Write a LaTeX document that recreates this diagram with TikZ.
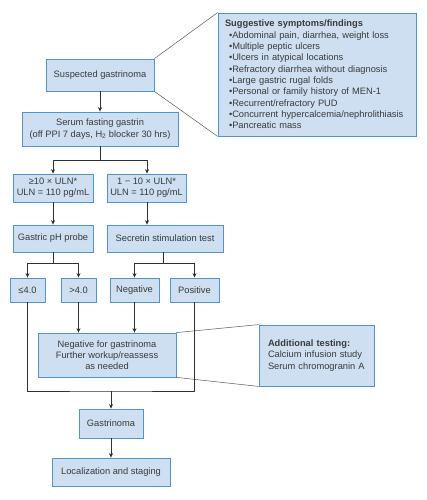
\documentclass[tikz,border=0pt]{standalone}
\usepackage{fontspec}
\setmainfont{Liberation Sans}
\usetikzlibrary{arrows.meta,shadows}
\definecolor{boxfill}{HTML}{CEDFF1}
\definecolor{boxdraw}{HTML}{4F95C9}
\definecolor{txt}{HTML}{3A3A3A}
\definecolor{ln}{HTML}{303030}
\tikzset{
  box/.style={draw=boxdraw, fill=boxfill, line width=0.8pt, inner sep=0pt, align=center,
    text=txt, font=\fontsize{9.3}{11.3}\selectfont,
    drop shadow={shadow xshift=0.8pt, shadow yshift=-0.8pt, fill=black!35, opacity=0.6}},
  conn/.style={draw=ln, line width=0.6pt},
  arr/.style={conn, -{Stealth[length=4.5pt,width=4pt]}},
  callout/.style={draw=ln!80, line width=0.5pt}
}
\begin{document}
\begin{tikzpicture}[x=1pt,y=-1pt]
\useasboundingbox (0,0) rectangle (426,500);
\fill[white] (0,0) rectangle (426,500);
% boxes
\node[box, minimum width=108pt, minimum height=32pt] (sus) at (100,75) {Suspected gastrinoma};
\node[box, text width=184pt, inner xsep=7pt, minimum height=123pt, align=left] (sym) at (317,74.5)
  {\textbf{Suggestive symptoms/findings}\\
   \hspace*{4pt}•Abdominal pain, diarrhea, weight loss\\
   \hspace*{4pt}•Multiple peptic ulcers\\
   \hspace*{4pt}•Ulcers in atypical locations\\
   \hspace*{4pt}•Refractory diarrhea without diagnosis\\
   \hspace*{4pt}•Large gastric rugal folds\\
   \hspace*{4pt}•Personal or family history of MEN-1\\
   \hspace*{4pt}•Recurrent/refractory PUD\\
   \hspace*{4pt}•Concurrent hypercalcemia/nephrolithiasis\\
   \hspace*{4pt}•Pancreatic mass};
\node[box, minimum width=156pt, minimum height=34pt] (serum) at (100,129)
  {Serum fasting gastrin\\(off PPI 7 days, H\textsubscript{2} blocker 30 hrs)};
\node[box, minimum width=80pt, minimum height=28pt] (g10) at (53,188) {≥10 × ULN*\\ULN = 110 pg/mL};
\node[box, minimum width=79pt, minimum height=28pt] (g1) at (146.5,188) {1 − 10 × ULN*\\ULN = 110 pg/mL};
\node[box, minimum width=80pt, minimum height=27pt] (ph) at (53,238.5) {Gastric pH probe};
\node[box, minimum width=116pt, minimum height=27pt] (sec) at (165,238.5) {Secretin stimulation test};
\node[box, minimum width=35pt, minimum height=24pt] (le) at (27.5,290) {≤4.0};
\node[box, minimum width=35pt, minimum height=24pt] (gt) at (78.5,290) {>4.0};
\node[box, minimum width=49pt, minimum height=24pt] (neg) at (134.5,290) {Negative};
\node[box, minimum width=49pt, minimum height=24pt] (pos) at (194.5,290) {Positive};
\node[box, minimum width=138pt, minimum height=44pt] (nfg) at (107,355)
  {Negative for gastrinoma\\Further workup/reassess\\as needed};
\node[box, text width=97pt, inner xsep=9pt, minimum height=61pt, align=left] (add) at (316.5,355.5)
  {\textbf{Additional testing:}\\Calcium infusion study\\Serum chromogranin A};
\node[box, minimum width=64pt, minimum height=29pt] (gas) at (111,423.5) {Gastrinoma};
\node[box, minimum width=118pt, minimum height=28pt] (loc) at (111,472) {Localization and staging};
% junctions
\coordinate (j1) at (100,160);
\coordinate (j2) at (53,263);
\coordinate (j3) at (163,263);
\coordinate (j4) at (111,391);
% callouts
\draw[callout] (sus.north east) -- (sym.north west);
\draw[callout] (sus.south east) -- (sym.south west);
\draw[callout] (nfg.north east) -- (add.north west);
\draw[callout] (nfg.south east) -- (add.south west);
% connectors
\draw[arr] (sus) -- (serum);
\draw[conn] (serum.south) -- (j1);
\draw[arr] (j1) -| (g10.north);
\draw[arr] (j1) -| ([xshift=0.5pt]g1.north);
\draw[arr] (g10) -- (ph);
\draw[arr] ([xshift=0.5pt]g1.south) -- ([xshift=0.5pt]g1.south |- sec.north);
\draw[conn] (ph.south) -- (j2);
\draw[arr] (j2) -| (le.north);
\draw[arr] (j2) -| (gt.north);
\draw[conn] (j3 |- sec.south) -- (j3);
\draw[arr] (j3) -| (neg.north);
\draw[arr] (j3) -| (pos.north);
\draw[arr] (gt.south) -- (gt.south |- nfg.north);
\draw[arr] (neg.south) -- (neg.south |- nfg.north);
\draw[conn] (le.south) |- (j4) -| (pos.south);
\draw[arr] (j4) -- (gas.north);
\draw[arr] (gas) -- (loc);
\end{tikzpicture}
\end{document}
